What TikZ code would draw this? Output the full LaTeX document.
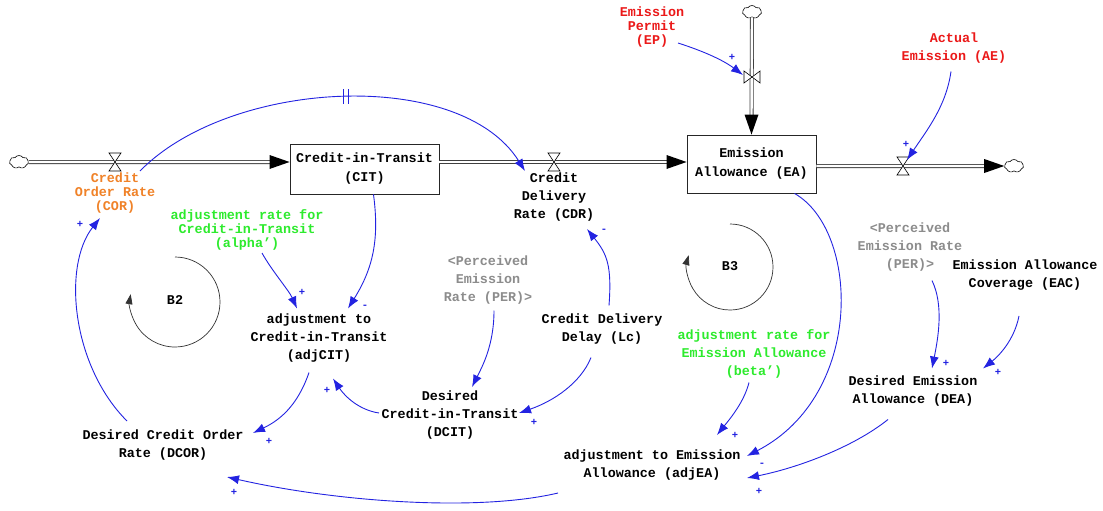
\documentclass[tikz,border=0pt]{standalone}
\usepackage{fontspec}
\setmainfont{Liberation Mono}
\usetikzlibrary{arrows.meta,calc,shapes.symbols}
\definecolor{lnk}{RGB}{35,35,225}
\definecolor{cort}{RGB}{240,130,40}
\definecolor{redt}{RGB}{235,25,25}
\definecolor{grnt}{RGB}{45,235,45}
\definecolor{gryt}{RGB}{140,140,140}
\begin{document}
\begin{tikzpicture}[x=1pt,y=-1pt,
  every node/.style={font=\fontsize{13.4}{18}\selectfont\bfseries, align=center, inner sep=0pt},
  tight/.style={font=\fontsize{13.4}{13.7}\selectfont\bfseries},
  stock/.style={draw=black!85, line width=0.9pt, fill=white},
  link/.style={draw=lnk, line width=0.9pt, -{Latex[length=12pt,width=9pt]}},
  sgn/.style={text=lnk, font=\fontsize{10.5}{10.5}\selectfont\bfseries},
  pipe/.style={draw=black!75, line width=0.8pt, double=white, double distance=2.4pt},
  cloudsh/.style={cloud, cloud puffs=7, cloud puff arc=110, aspect=1.4, draw, fill=white, line width=0.6pt, minimum width=19pt, minimum height=13pt},
  loopar/.style={draw=black!80, line width=0.7pt, -{Triangle[length=10pt,width=7pt]}},
  valveh/.pic={\draw[fill=white,line width=0.6pt] (-6,-9) -- (6,-9) -- (-6,9) -- (6,9) -- cycle;},
  valvev/.pic={\draw[fill=white,line width=0.6pt] (-8,-6) -- (-8,6) -- (8,-6) -- (8,6) -- cycle;}
]
\useasboundingbox (0,0) rectangle (1103,511);
\fill[white] (0,0) rectangle (1103,511);

% stocks
\node[stock, minimum width=149pt, minimum height=50pt] (CIT) at (364.5,169) {Credit-in-Transit\\[1pt](CIT)};
\node[stock, minimum width=129pt, minimum height=58pt] (EA) at (751.5,164) {Emission\\[1pt]Allowance (EA)};

% clouds
\node[cloudsh] (c1) at (19,162) {};
\node[cloudsh] (c2) at (1014,166) {};
\node[cloudsh] (c3) at (752,12) {};

% valves
\coordinate (vCOR) at (115,162);
\coordinate (vCDR) at (554,162);
\coordinate (vAE) at (903,166);
\coordinate (vEP) at (752,77);

% pipes
\draw[pipe] (c1.east) -- ($(CIT.west)+(-18,-7)$);
\fill ($(CIT.west)+(0,-7)$) -- ++(-20,-7) -- ++(0,14) -- cycle;
\draw[pipe] ($(CIT.east)+(0,-7)$) -- ($(EA.west)+(-18,-2)$);
\fill ($(EA.west)+(0,-2)$) -- ++(-20,-7) -- ++(0,14) -- cycle;
\draw[pipe] ($(EA.east)+(0,2)$) -- ($(c2.west)+(-18,0)$);
\fill (c2.west) -- ++(-20,-7) -- ++(0,14) -- cycle;
\draw[pipe] (c3.south) -- ($(EA.north)+(0,-18)$);
\fill (EA.north) -- ++(-7,-20) -- ++(14,0) -- cycle;
\pic at (vCOR) {valveh};
\pic at (vCDR) {valveh};
\pic at (vAE) {valveh};
\pic at (vEP) {valvev};

% variables
\node[tight, text=cort] (COR) at (115,193) {Credit\\Order Rate\\(COR)};
\node (CDR) at (554,197) {Credit\\Delivery\\Rate (CDR)};
\node[tight, text=redt] (EP) at (652,27) {Emission\\Permit\\(EP)};
\node[text=redt] (AE) at (954,48.5) {Actual\\Emission (AE)};
\node[font=\fontsize{13.4}{14.2}\selectfont\bfseries, text=grnt] (alpha) at (247,230) {adjustment rate for\\Credit-in-Transit\\(alpha')};
\node (adjCIT) at (319,338.5) {adjustment to\\Credit-in-Transit\\(adjCIT)};
\node (DCOR) at (163,445) {Desired Credit Order\\Rate (DCOR)};
\node[text=gryt] (PER1) at (488,280.5) {<Perceived\\Emission\\Rate (PER)>};
\node (Lc) at (602,329.5) {Credit Delivery\\Delay (Lc)};
\node (DCIT) at (450,415) {Desired\\Credit-in-Transit\\(DCIT)};
\node[text=grnt] (beta) at (754,353.5) {adjustment rate for\\Emission Allowance\\(beta')};
\node (adjEA) at (652,465) {adjustment to Emission\\Allowance (adjEA)};
\node (DEA) at (913,391.5) {Desired Emission\\Allowance (DEA)};
\node[text=gryt] (PER2) at (910,247.5) {<Perceived\\Emission Rate\\(PER)>};
\node (EAC) at (1025,275) {Emission Allowance\\Coverage (EAC)};

% loops
\node (B2) at (175,300) {B2};
\draw[loopar] (175,257) arc[start angle=-90, end angle=190, radius=45];
\node (B3) at (730,266) {B3};
\draw[loopar] (730,224) arc[start angle=-90, end angle=196, radius=43];

% links
\draw[link] ($(COR)+(25,-22)$) .. controls +(90,-92) and +(-65,-104) .. ($(CDR)+(-29,-26)$);
\draw[lnk, line width=0.9pt] (343,89) -- (343,104) (348,89) -- (348,104);
\draw[link] ($(CIT.south)+(9,0)$) .. controls +(6,45) and +(25,-40) .. ($(adjCIT)+(29,-30)$);
\draw[link] ($(alpha)+(15,23)$) .. controls +(10,18) and +(-8,-18) .. ($(adjCIT)+(-22,-30)$);
\draw[link] ($(adjCIT)+(-10,34)$) .. controls +(-12,35) and +(25,-12) .. ($(DCOR)+(90,-12)$);
\draw[link] ($(DCIT)+(-71,-2)$) .. controls +(-20,-3) and +(12,18) .. ($(adjCIT)+(14,40)$);
\draw[link] ($(DCOR)+(-36,-24)$) .. controls +(-55,-55) and +(-38,48) .. ($(COR)+(-15,25)$);
\draw[link] ($(adjEA)+(-94,28)$) .. controls +(-80,19) and +(110,25) .. ($(DCOR)+(64,32)$);
\draw[link] ($(Lc)+(7,-24)$) .. controls +(3,-40) and +(20,25) .. ($(CDR)+(33,32)$);
\draw[link] ($(PER1)+(6,30)$) .. controls +(0,35) and +(10,-20) .. ($(DCIT)+(22,-28)$);
\draw[link] ($(Lc)+(-11,28)$) .. controls +(-10,25) and +(35,-12) .. ($(DCIT)+(69,-2)$);
\draw[link] ($(EP)+(26,16)$) .. controls +(25,8) and +(-20,-15) .. ($(vEP)+(-9,-2)$);
\draw[link] ($(AE)+(-3,23)$) .. controls +(-5,35) and +(20,-30) .. ($(vAE)+(4,-6)$);
\draw[link] ($(EA.south)+(43,0)$) .. controls +(65,37) and +(118,-61) .. ($(adjEA)+(95,-9)$);
\draw[link] ($(beta)+(-5,29)$) .. controls +(-5,20) and +(12,-15) .. ($(adjEA)+(65,-30)$);
\draw[link] ($(DEA)+(-25,28)$) .. controls +(-35,28) and +(50,-10) .. ($(adjEA)+(95,13)$);
\draw[link] ($(PER2)+(22,33)$) .. controls +(12,25) and +(6,-30) .. ($(DEA)+(19,-23)$);
\draw[link] ($(EAC)+(-6,41)$) .. controls +(-5,25) and +(15,-12) .. ($(DEA)+(70,-23)$);

% polarity signs
\node[sgn] at (302,292) {+};
\node[sgn] at (365,307) {-};
\node[sgn] at (269,441) {+};
\node[sgn] at (327,390) {+};
\node[sgn] at (80,224) {+};
\node[sgn] at (234,492) {+};
\node[sgn] at (604,231) {-};
\node[sgn] at (534,422) {+};
\node[sgn] at (732,57) {+};
\node[sgn] at (906,144) {+};
\node[sgn] at (762,465) {-};
\node[sgn] at (735,435) {+};
\node[sgn] at (759,491) {+};
\node[sgn] at (946,363) {+};
\node[sgn] at (998,372) {+};
\end{tikzpicture}
\end{document}
